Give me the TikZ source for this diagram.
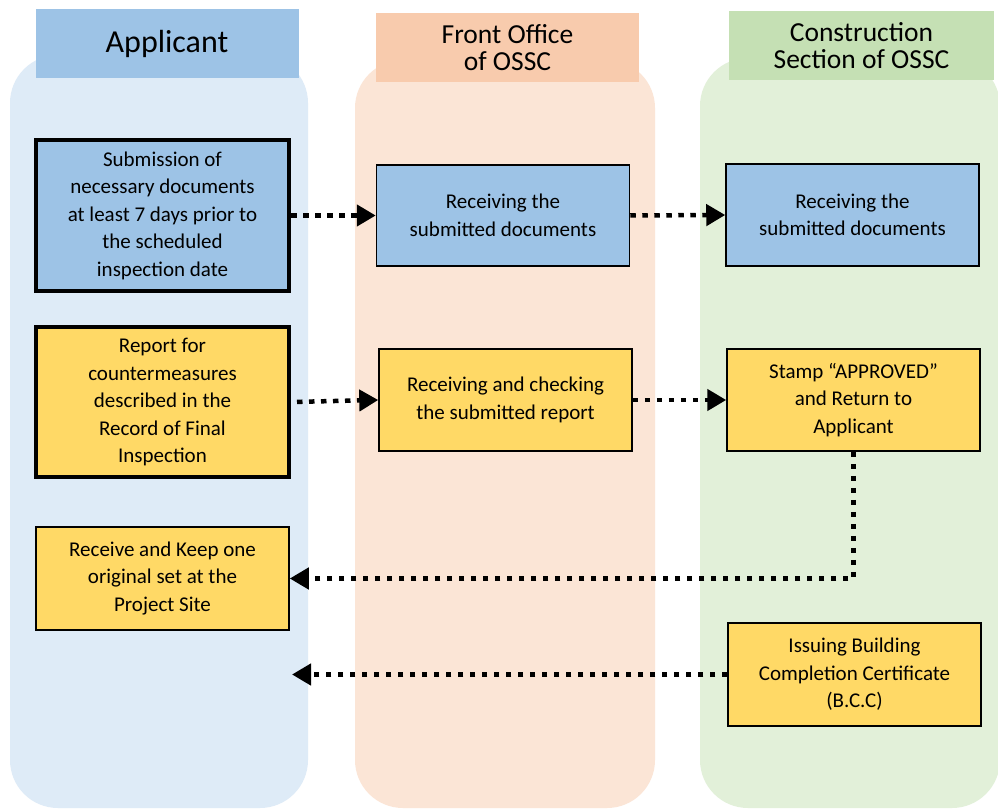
\documentclass[tikz,border=0pt]{standalone}
\usepackage{fontspec}
\setmainfont{Carlito}
\usetikzlibrary{arrows.meta}
\definecolor{laneA}{HTML}{DEEBF7}
\definecolor{laneF}{HTML}{FBE5D6}
\definecolor{laneC}{HTML}{E2F0D9}
\definecolor{headA}{HTML}{9DC3E6}
\definecolor{headF}{HTML}{F8CBAD}
\definecolor{headC}{HTML}{C5E0B4}
\definecolor{boxblue}{HTML}{9DC3E6}
\definecolor{boxyel}{HTML}{FFD966}
\tikzset{
  lane/.style={rounded corners=48pt},
  header/.style={inner sep=0pt, align=center, font=\fontsize{27.5}{27}\selectfont},
  stepbox/.style={draw=black, line width=1.5pt, inner sep=2pt, minimum width=253pt, align=center,
    font=\fontsize{21}{27.5}\selectfont},
  thickbox/.style={stepbox, line width=4pt},
  flow/.style={line width=4.5pt, dash pattern=on 5.5pt off 6.5pt, -{Triangle[length=19pt,width=21pt]}}
}
\begin{document}
\begin{tikzpicture}[x=1pt,y=-1pt]
\clip (0,0) rectangle (998,810);
\fill[white] (0,0) rectangle (998,810);
% lanes
\fill[laneA, lane] (10,55) rectangle (308,808);
\fill[laneF, lane] (355,60) rectangle (655,808);
\fill[laneC, lane] (700,58) rectangle (1000,808);
% headers
\node[header, fill=headA, minimum width=263pt, minimum height=69pt, font=\fontsize{32}{33}\selectfont] (hA) at (167,44) {Applicant};
\node[header, fill=headF, minimum width=263pt, minimum height=69pt] (hF) at (507.5,48) {Front Office\\of OSSC};
\node[header, fill=headC, minimum width=265pt, minimum height=69pt] (hC) at (861.5,46) {Construction\\Section of OSSC};
% boxes
\node[thickbox, fill=boxblue, minimum height=151pt] (A1) at (162.5,215.5)
  {Submission of\\necessary documents\\at least 7 days prior to\\the scheduled\\inspection date};
\node[stepbox, fill=boxblue, minimum height=101pt] (F1) at (503,215.5)
  {Receiving the\\submitted documents};
\node[stepbox, fill=boxblue, minimum height=102pt] (C1) at (852.5,215)
  {Receiving the\\submitted documents};
\node[thickbox, fill=boxyel, minimum height=150pt] (A2) at (162.5,402)
  {Report for\\countermeasures\\described in the\\Record of Final\\Inspection};
\node[stepbox, fill=boxyel, minimum height=102pt] (F2) at (505.5,400)
  {Receiving and checking\\the submitted report};
\node[stepbox, fill=boxyel, minimum height=102pt] (C2) at (853.5,400)
  {Stamp “APPROVED”\\and Return to\\Applicant};
\node[stepbox, fill=boxyel, minimum height=103pt] (A3) at (162.5,578.5)
  {Receive and Keep one\\original set at the\\Project Site};
\node[stepbox, fill=boxyel, minimum height=103pt] (C3) at (854.5,674.5)
  {Issuing Building\\Completion Certificate\\(B.C.C)};
\coordinate (end5) at (292,674.5);
% connectors
\draw[flow] (A1.east) -- (F1.west);
\draw[flow] (F1.east) -- (C1.west);
\draw[flow, shorten <=6pt] (A2.east) -- (F2.west);
\draw[flow] (F2.east) -- (C2.west);
\draw[flow] (C2.south) |- (A3.east);
\draw[flow] (C3.west) -- (end5);
\end{tikzpicture}
\end{document}
